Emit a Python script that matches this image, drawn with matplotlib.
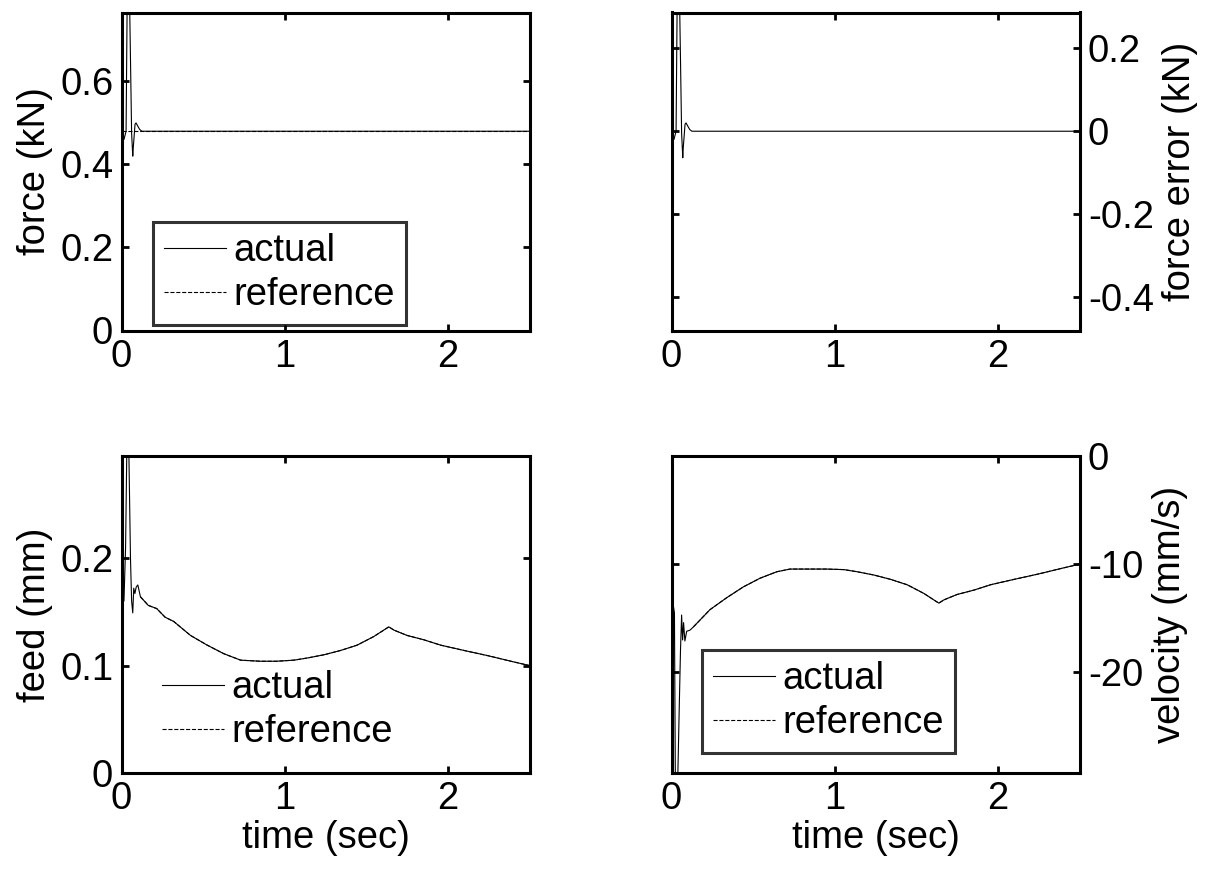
import matplotlib
matplotlib.use('Agg')
import matplotlib.pyplot as plt

plt.rcParams['font.family'] = ['Liberation Sans', 'DejaVu Sans']
plt.rcParams['font.size'] = 27.5
plt.rcParams['axes.unicode_minus'] = False

# force (kN)
t_force = [0, 0.015, 0.028, 0.036, 0.042, 0.05, 0.056, 0.062, 0.069, 0.072,
           0.083, 0.089, 0.096, 0.103, 0.112, 0.125, 0.5, 1.0, 1.5, 2.0, 2.5]
force = [0.47, 0.46, 0.48, 0.85, 0.95, 0.78, 0.63, 0.475, 0.42, 0.44,
         0.497, 0.50, 0.495, 0.49, 0.484, 0.48, 0.48, 0.48, 0.48, 0.48, 0.48]
t_force_ref = [0, 2.5]
force_ref = [0.48, 0.48]

# force error (kN)
force_err = [-0.01, -0.02, 0.0, 0.37, 0.47, 0.30, 0.15, -0.005, -0.064, -0.04,
             0.017, 0.02, 0.015, 0.01, 0.004, 0.0, 0.0, 0.0, 0.0, 0.0, 0.0]

# feed (mm)
t_feed = [0, 0.015, 0.025, 0.035, 0.045, 0.055, 0.062, 0.069, 0.075, 0.082,
          0.09, 0.1, 0.116, 0.164, 0.216, 0.267, 0.32, 0.423, 0.525, 0.627,
          0.73, 0.85, 0.95, 1.056, 1.138, 1.24, 1.342, 1.444, 1.546, 1.638,
          1.669, 1.75, 1.852, 1.955, 2.1, 2.25, 2.4, 2.5]
feed = [0.17, 0.16, 0.21, 0.33, 0.30, 0.20, 0.16, 0.149, 0.172, 0.167,
        0.173, 0.175, 0.164, 0.156, 0.153, 0.145, 0.141, 0.128, 0.119, 0.111,
        0.105, 0.104, 0.104, 0.105, 0.107, 0.110, 0.114, 0.119, 0.127, 0.136,
        0.133, 0.128, 0.124, 0.119, 0.114, 0.109, 0.1035, 0.100]

# velocity (mm/s)
t_vel = [0, 0.012, 0.018, 0.024, 0.034, 0.045, 0.055, 0.062, 0.068, 0.074,
         0.082, 0.093, 0.113, 0.134, 0.236, 0.338, 0.44, 0.542, 0.645, 0.726,
         0.85, 0.95, 1.056, 1.138, 1.24, 1.342, 1.444, 1.546, 1.638, 1.669,
         1.75, 1.852, 1.955, 2.1, 2.25, 2.4, 2.5]
velocity = [-14.0, -13.9, -14.5, -31, -33, -25, -18, -14.7, -17.0, -15.4,
            -17.1, -16.2, -16.1, -15.8, -14.2, -13.1, -12.1, -11.3, -10.7, -10.45,
            -10.45, -10.45, -10.5, -10.7, -11.0, -11.4, -11.9, -12.7, -13.6, -13.3,
            -12.8, -12.4, -11.9, -11.4, -10.9, -10.35, -10.0]

W, H = 1209, 869
fig = plt.figure(figsize=(W / 100, H / 100), dpi=100)


def add(l, r, t, b):
    return fig.add_axes([l / W, 1 - b / H, (r - l) / W, (b - t) / H])


def style(ax, right=False):
    for s in ax.spines.values():
        s.set_linewidth(2.2)
    ax.tick_params(direction='in', length=5, width=2, top=True, bottom=True,
                   left=True, right=True, pad=6)
    if right:
        ax.yaxis.tick_right()
        ax.yaxis.set_label_position('right')
        ax.tick_params(axis='y', left=True, right=True)
    ax.set_xlim(0, 2.5)
    ax.set_xticks([0, 1, 2])


def leg(ax, x, y, frame=True):
    lg = ax.legend(loc='upper left', bbox_to_anchor=(x / W, 1 - y / H),
                   bbox_transform=fig.transFigure, borderaxespad=0,
                   frameon=frame, fancybox=False, handlelength=1.6,
                   handletextpad=0.2, labelspacing=0.2, borderpad=0.3)
    if frame:
        lg.get_frame().set_edgecolor('black')
        lg.get_frame().set_linewidth(2.2)


lw = 0.8
ax1 = add(121.5, 529.5, 12.5, 330.5)
ax1.plot(t_force, force, 'k-', lw=lw, label='actual')
ax1.plot(t_force_ref, force_ref, 'k--', lw=lw, label='reference')
style(ax1)
ax1.set_ylim(0, 0.766)
ax1.set_yticks([0, 0.2, 0.4, 0.6])
ax1.set_yticklabels(['0', '0.2', '0.4', '0.6'])
ax1.set_ylabel('force (kN)', labelpad=5)
leg(ax1, 153, 222)

ax2 = add(671.5, 1079.5, 12.5, 330.5)
ax2.plot(t_force, force_err, 'k-', lw=lw)
style(ax2, right=True)
ax2.set_ylim(-0.48, 0.286)
ax2.set_yticks([-0.4, -0.2, 0, 0.2])
ax2.set_yticklabels(['-0.4', '-0.2', '0', '0.2'])
ax2.set_ylabel('force error (kN)', labelpad=6)

ax3 = add(121.5, 529.5, 456, 773)
ax3.plot(t_feed, feed, 'k-', lw=lw, label='actual')
ax3.plot(t_feed[12:], feed[12:], 'k--', lw=lw, label='reference')
style(ax3)
ax3.set_ylim(0, 0.295)
ax3.set_yticks([0, 0.1, 0.2])
ax3.set_yticklabels(['0', '0.1', '0.2'])
ax3.set_ylabel('feed (mm)', labelpad=5)
ax3.set_xlabel('time (sec)', labelpad=2)
leg(ax3, 151, 659, frame=False)

ax4 = add(671.5, 1079.5, 456, 773)
ax4.plot(t_vel, velocity, 'k-', lw=lw, label='actual')
ax4.plot(t_vel[13:], velocity[13:], 'k--', lw=lw, label='reference')
style(ax4, right=True)
ax4.set_ylim(-29.3, 0)
ax4.set_yticks([-20, -10, 0])
ax4.set_ylabel('velocity (mm/s)', labelpad=6)
ax4.set_xlabel('time (sec)', labelpad=2)
leg(ax4, 702, 650)

fig.savefig('out.png', dpi=100)
